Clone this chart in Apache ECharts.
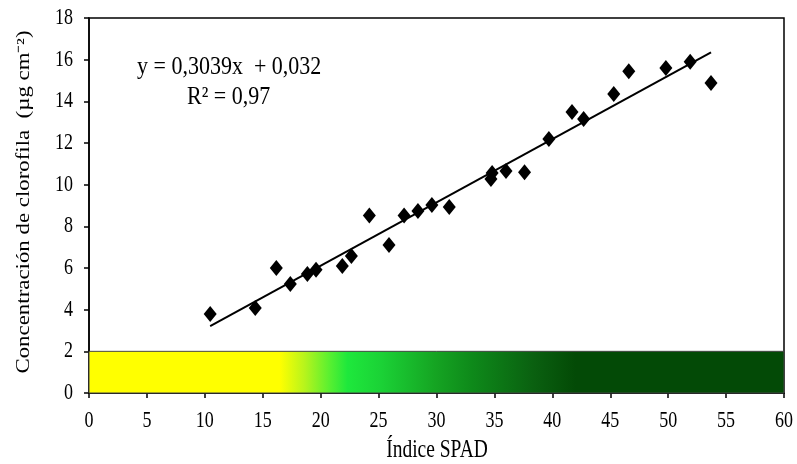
<!DOCTYPE html>
<html><head><meta charset="utf-8">
<script src="https://cdn.jsdelivr.net/npm/echarts@6/dist/echarts.min.js"></script>
<style>html,body{margin:0;padding:0;background:#fff}#c{width:797px;height:464px}</style>
</head><body><div id="c"></div>
<script>
const spadValues = [10.46,14.35,16.17,17.38,18.85,19.6,21.87,22.65,24.2,25.9,27.2,28.4,29.6,31.1,34.7,34.8,36.0,37.6,39.7,41.7,42.7,45.3,46.6,49.8,51.9,53.7];
const chlValues  = [3.79,4.08,6.0,5.23,5.71,5.92,6.1,6.58,8.52,7.1,8.52,8.74,9.03,8.93,10.27,10.56,10.66,10.6,12.19,13.49,13.15,14.35,15.45,15.6,15.9,14.88];
const slope = 0.3039, intercept = 0.032;
const fitRange = [10.46, 53.7];
const xTicks = [0,5,10,15,20,25,30,35,40,45,50,55,60];
const yTicks = [0,2,4,6,8,10,12,14,16,18];
const bandRange = [0, 2];
const gradientStops = [
  [0.0,'#ffff00'],[0.275,'#ffff00'],[0.31,'#b8f41c'],[0.345,'#5cf030'],[0.372,'#1ee83c'],
  [0.42,'#1bd236'],[0.5,'#15a322'],[0.55,'#0e8a1a'],[0.64,'#0a6010'],[0.7,'#034a06'],[1.0,'#034a06']
];
const xName = 'Índice SPAD';
const yName = 'Concentración de clorofila  (µg cm⁻²)';
const eqText = 'y = 0,3039x  + 0,032';
const r2Text = 'R² = 0,97';

const chart = echarts.init(document.getElementById('c'), null, {renderer:'canvas'});
const FF = '"Liberation Serif"';
chart.setOption({
  animation:false,
  grid:{left:89,right:13,top:18,bottom:71,show:true,borderColor:'#000',borderWidth:1.5,backgroundColor:'transparent'},
  xAxis:{type:'value',min:0,max:60,interval:5,
    axisLine:{lineStyle:{color:'#000',width:1.5}},
    axisTick:{show:true,inside:false,length:5,lineStyle:{color:'#000',width:1.5}},
    axisLabel:{show:false},
    splitLine:{show:false}},
  yAxis:{type:'value',min:0,max:18,interval:2,
    axisLine:{lineStyle:{color:'#000',width:1.5}},
    axisTick:{show:true,inside:false,length:5,lineStyle:{color:'#000',width:1.5}},
    axisLabel:{show:false},
    splitLine:{show:false}},
  series:[
    {type:'line',data:[],silent:true,z:1,
      markArea:{silent:true,itemStyle:{
        color:new echarts.graphic.LinearGradient(0,0,1,0,gradientStops.map(s=>({offset:s[0],color:s[1]}))),
        borderColor:'#444',borderWidth:1},
        data:[[{xAxis:xTicks[0],yAxis:bandRange[0]},{xAxis:xTicks[xTicks.length-1],yAxis:bandRange[1]}]]}},
    {type:'line',data:fitRange.map(x=>[x,slope*x+intercept]),symbol:'none',
      lineStyle:{color:'#000',width:2},z:3},
    {type:'scatter',data:spadValues.map((x,i)=>[x,chlValues[i]]),symbol:'diamond',symbolSize:[13,16],
      itemStyle:{color:'#000',opacity:1},z:4}
  ]
});

const SY = 1.26;
const g = [];
const y0 = chart.convertToPixel({gridIndex:0},[0,0])[1];
const x0 = chart.convertToPixel({gridIndex:0},[0,0])[0];
xTicks.forEach(v=>{
  const px = chart.convertToPixel({gridIndex:0},[v,0])[0];
  g.push({type:'text',x:px,y:y0+28,scaleY:SY,silent:true,
    style:{text:String(v),font:'18px '+FF,fill:'#000',textAlign:'center',textVerticalAlign:'middle'}});
});
yTicks.forEach(v=>{
  const py = chart.convertToPixel({gridIndex:0},[0,v])[1];
  g.push({type:'text',x:x0-16,y:py,scaleY:SY,silent:true,
    style:{text:String(v),font:'18px '+FF,fill:'#000',textAlign:'right',textVerticalAlign:'middle'}});
});
g.push({type:'text',x:437,y:451,scaleY:SY,silent:true,
  style:{text:xName,font:'19.5px '+FF,fill:'#000',textAlign:'center',textVerticalAlign:'middle'}});
g.push({type:'text',x:24,y:202,rotation:Math.PI/2,scaleX:1.27,silent:true,
  style:{text:yName,font:'18px '+FF,fill:'#000',textAlign:'center',textVerticalAlign:'middle'}});
g.push({type:'text',x:137,y:68,scaleY:1.12,silent:true,
  style:{text:eqText,font:'22px '+FF,fill:'#000',textAlign:'left',textVerticalAlign:'middle'}});
g.push({type:'text',x:187,y:98,scaleY:1.12,silent:true,
  style:{text:r2Text,font:'22px '+FF,fill:'#000',textAlign:'left',textVerticalAlign:'middle'}});
chart.setOption({graphic:g});
</script></body></html>
